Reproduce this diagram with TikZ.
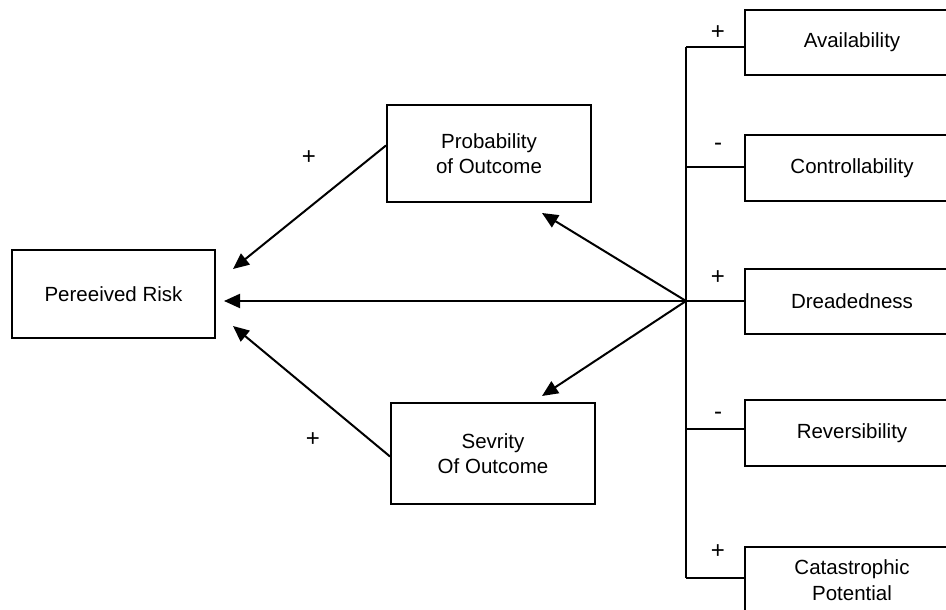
\documentclass[tikz,border=0pt]{standalone}
\usepackage{fontspec}
\setmainfont{Liberation Sans}
\usetikzlibrary{arrows.meta,positioning,calc}

\begin{document}
\begin{tikzpicture}[
  x=1pt, y=1pt,
  line width=2pt,
  box/.style={draw, line width=2pt, align=center, font=\fontsize{20.5}{25.5}\selectfont, inner sep=0pt},
  arrow/.style={-{Triangle[length=16pt,width=14pt]}, line width=2pt},
  sign/.style={font=\fontsize{24}{25.5}\selectfont, inner sep=1pt}
]
\useasboundingbox (0,0) rectangle (946,610);
\clip (0,0) rectangle (946,610);
\node[box, minimum width=203pt, minimum height=88pt] (risk) at (113.5,316) {Pereeived Risk};
\node[box, minimum width=204pt, minimum height=97pt] (prob) at (489,456.5) {Probability\\of Outcome};
\node[box, minimum width=204pt, minimum height=101pt] (sev) at (493,156.5) {Sevrity\\Of Outcome};
\node[box, minimum width=215pt, minimum height=65pt] (avail) at (852,567.5) {Availability};
\node[box, minimum width=215pt, minimum height=66pt] (contr) at (852,442) {Controllability};
\node[box, minimum width=215pt, minimum height=65pt] (dread) at (852,308.5) {Dreadedness};
\node[box, minimum width=215pt, minimum height=66pt] (rever) at (852,177) {Reversibility};
\node[box, minimum width=215pt, minimum height=66pt] (catas) at (852,30) {Catastrophic\\Potential};
\coordinate (hub) at (686,309);
\coordinate (top) at (686,563);
\coordinate (bot) at (686,32);
% spine and stubs
\draw (top) -- (bot);
\draw (top) -- (top -| avail.west);
\draw ($(contr.west)+(0,1)$) -| (hub);
\draw (hub) -- (hub -| dread.west);
\draw ($(rever.west)+(0,4)$) -| (hub);
\draw (bot) -- (bot -| catas.west);
% arrows
\draw[arrow, shorten >=8pt] (hub) -- (hub -| risk.east);
\draw[arrow] (hub) -- ($(prob.south)+(53,-10)$);
\draw[arrow] (hub) -- ($(sev.north)+(49,6)$);
\draw[arrow] ($(prob.west)+(0,8)$) -- ($(risk.north east)+(17,-20)$);
\draw[arrow] ($(sev.west)+(0,-3)$) -- ($(risk.south east)+(17,13)$);
% signs
\node[sign] (sp) at (309,452) {+};
\node[sign] (ss) at (313,170) {+};
\node[sign] (s1) at (718,577) {+};
\node[sign] (s2) at (718,463) {-};
\node[sign] (s3) at (718,332) {+};
\node[sign] (s4) at (718,194) {-};
\node[sign] (s5) at (718,58) {+};
\end{tikzpicture}
\end{document}
